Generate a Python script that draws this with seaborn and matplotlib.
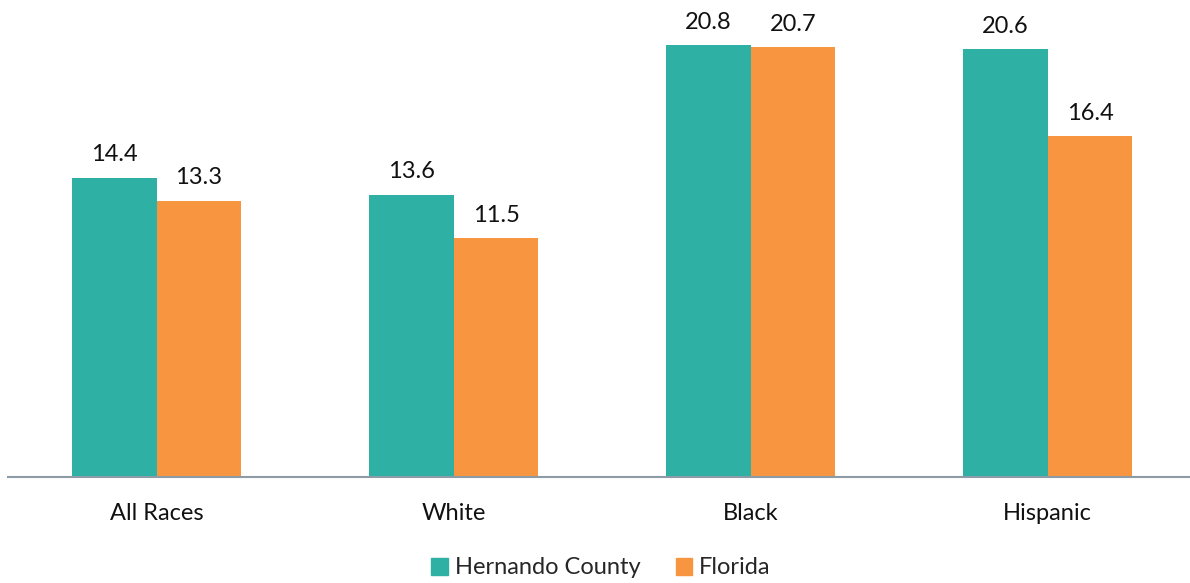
import matplotlib; matplotlib.use('Agg')
import matplotlib.pyplot as plt
import seaborn as sns
import pandas as pd

races = ['All Races', 'White', 'Black', 'Hispanic']
hernando = [14.4, 13.6, 20.8, 20.6]
florida = [13.3, 11.5, 20.7, 16.4]
series = ['Hernando County', 'Florida']
colors = ['#2EB0A5', '#F79540']

df = pd.DataFrame({
    'race': races * 2,
    'value': hernando + florida,
    'area': [series[0]] * 4 + [series[1]] * 4,
})

sns.set_style('white')
plt.rcParams['font.family'] = ['Lato', 'DejaVu Sans']
fs = 17

fig = plt.figure(figsize=(11.9, 5.83), dpi=100)
ax = fig.add_axes([8 / 1190, 1 - 477 / 583, 1 - 8 / 1190, 477 / 583])
sns.barplot(data=df, x='race', y='value', hue='area', palette=colors,
            width=0.572, saturation=1, linewidth=0, ax=ax, legend=False)
for c in ax.containers:
    ax.bar_label(c, fmt='%.1f', padding=9, fontsize=fs, color='#111111')

ax.set_ylim(0, 22.97)
ax.set_xlim(-0.5, 3.5 - 6 / 297)
ax.set_xlabel(''); ax.set_ylabel('')
ax.set_yticks([])
for s in ['top', 'right', 'left']:
    ax.spines[s].set_visible(False)
ax.spines['bottom'].set_color('#8C9BA5')
ax.spines['bottom'].set_linewidth(1.5)
ax.tick_params(axis='x', length=0, pad=19, labelsize=fs, labelcolor='#111111')

handles = [plt.Rectangle((0, 0), 1, 1, color=col) for col in colors]
fig.legend(handles, series, loc='center', bbox_to_anchor=(0.505, 1 - 568 / 583),
           bbox_transform=fig.transFigure, ncol=2, frameon=False, fontsize=fs,
           handlelength=0.7, handleheight=0.7, handletextpad=0.3, columnspacing=1.5)

fig.savefig('out.png', dpi=100)
